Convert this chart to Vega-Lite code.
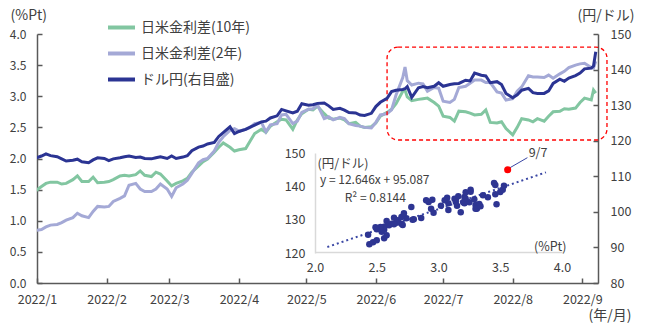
{
  "$schema": "https://vega.github.io/schema/vega-lite/v6.json",
  "width": 561,
  "height": 249,
  "autosize": {"type": "none"},
  "padding": {"left": 37, "top": 34, "right": 51, "bottom": 43},
  "background": "white",
  "config": {
    "view": {"stroke": null},
    "font": "Noto Sans CJK JP",
    "axis": {
      "labelFont": "Noto Sans CJK JP", "titleFont": "Noto Sans CJK JP",
      "labelColor": "#404040", "titleColor": "#404040",
      "labelFontSize": 12.5, "titleFontSize": 14, "titleFontWeight": "normal",
      "grid": false, "domainColor": "#595959", "tickColor": "#595959",
      "domainWidth": 1.5, "tickWidth": 1.5, "tickSize": -5, "labelOverlap": false, "labelBound": false
    },
    "legend": {
      "orient": "none", "legendX": 69, "legendY": -22,
      "symbolType": "stroke", "symbolSize": 729, "symbolStrokeWidth": 4,
      "labelFontSize": 14, "labelColor": "#404040", "labelFont": "Noto Sans CJK JP",
      "rowPadding": 2, "labelOffset": 4, "padding": 0
    }
  },
  "datasets": {
    "fx": [
      {"d": "2021-12-31", "s10": 1.47, "s2": 0.84, "usd": 115.0},
      {"d": "2022-01-03", "s10": 1.55, "s2": 0.86, "usd": 115.7},
      {"d": "2022-01-05", "s10": 1.60, "s2": 0.90, "usd": 116.3},
      {"d": "2022-01-07", "s10": 1.62, "s2": 0.93, "usd": 115.8},
      {"d": "2022-01-10", "s10": 1.62, "s2": 0.94, "usd": 115.5},
      {"d": "2022-01-12", "s10": 1.59, "s2": 0.97, "usd": 114.9},
      {"d": "2022-01-14", "s10": 1.60, "s2": 1.01, "usd": 114.3},
      {"d": "2022-01-17", "s10": 1.66, "s2": 1.05, "usd": 114.5},
      {"d": "2022-01-19", "s10": 1.72, "s2": 1.12, "usd": 114.8},
      {"d": "2022-01-21", "s10": 1.63, "s2": 1.08, "usd": 114.1},
      {"d": "2022-01-24", "s10": 1.63, "s2": 1.05, "usd": 113.8},
      {"d": "2022-01-26", "s10": 1.70, "s2": 1.15, "usd": 114.6},
      {"d": "2022-01-28", "s10": 1.61, "s2": 1.23, "usd": 115.2},
      {"d": "2022-01-31", "s10": 1.62, "s2": 1.22, "usd": 115.0},
      {"d": "2022-02-02", "s10": 1.63, "s2": 1.23, "usd": 114.4},
      {"d": "2022-02-04", "s10": 1.66, "s2": 1.31, "usd": 114.9},
      {"d": "2022-02-07", "s10": 1.72, "s2": 1.36, "usd": 115.2},
      {"d": "2022-02-09", "s10": 1.73, "s2": 1.40, "usd": 115.5},
      {"d": "2022-02-11", "s10": 1.72, "s2": 1.57, "usd": 115.7},
      {"d": "2022-02-14", "s10": 1.74, "s2": 1.60, "usd": 115.3},
      {"d": "2022-02-16", "s10": 1.80, "s2": 1.51, "usd": 115.4},
      {"d": "2022-02-18", "s10": 1.73, "s2": 1.47, "usd": 115.0},
      {"d": "2022-02-21", "s10": 1.71, "s2": 1.47, "usd": 114.9},
      {"d": "2022-02-23", "s10": 1.78, "s2": 1.51, "usd": 115.2},
      {"d": "2022-02-25", "s10": 1.75, "s2": 1.59, "usd": 115.5},
      {"d": "2022-02-28", "s10": 1.64, "s2": 1.51, "usd": 115.0},
      {"d": "2022-03-02", "s10": 1.56, "s2": 1.39, "usd": 115.7},
      {"d": "2022-03-04", "s10": 1.60, "s2": 1.53, "usd": 115.0},
      {"d": "2022-03-07", "s10": 1.64, "s2": 1.59, "usd": 115.4},
      {"d": "2022-03-09", "s10": 1.68, "s2": 1.65, "usd": 115.8},
      {"d": "2022-03-11", "s10": 1.78, "s2": 1.76, "usd": 117.2},
      {"d": "2022-03-14", "s10": 1.88, "s2": 1.93, "usd": 118.2},
      {"d": "2022-03-16", "s10": 1.95, "s2": 1.98, "usd": 118.5},
      {"d": "2022-03-18", "s10": 1.99, "s2": 2.00, "usd": 119.1},
      {"d": "2022-03-21", "s10": 2.10, "s2": 2.12, "usd": 119.5},
      {"d": "2022-03-23", "s10": 2.18, "s2": 2.26, "usd": 121.2},
      {"d": "2022-03-25", "s10": 2.25, "s2": 2.35, "usd": 122.3},
      {"d": "2022-03-28", "s10": 2.18, "s2": 2.45, "usd": 123.9},
      {"d": "2022-03-30", "s10": 2.12, "s2": 2.48, "usd": 122.0},
      {"d": "2022-04-01", "s10": 2.14, "s2": 2.44, "usd": 122.6},
      {"d": "2022-04-04", "s10": 2.16, "s2": 2.47, "usd": 123.2},
      {"d": "2022-04-06", "s10": 2.28, "s2": 2.50, "usd": 123.8},
      {"d": "2022-04-08", "s10": 2.40, "s2": 2.56, "usd": 124.4},
      {"d": "2022-04-11", "s10": 2.47, "s2": 2.58, "usd": 125.3},
      {"d": "2022-04-13", "s10": 2.42, "s2": 2.43, "usd": 125.5},
      {"d": "2022-04-15", "s10": 2.52, "s2": 2.54, "usd": 126.4},
      {"d": "2022-04-18", "s10": 2.59, "s2": 2.56, "usd": 127.0},
      {"d": "2022-04-20", "s10": 2.63, "s2": 2.70, "usd": 128.8},
      {"d": "2022-04-22", "s10": 2.62, "s2": 2.71, "usd": 128.4},
      {"d": "2022-04-25", "s10": 2.47, "s2": 2.56, "usd": 127.8},
      {"d": "2022-04-27", "s10": 2.62, "s2": 2.60, "usd": 128.3},
      {"d": "2022-04-29", "s10": 2.72, "s2": 2.74, "usd": 130.4},
      {"d": "2022-05-02", "s10": 2.79, "s2": 2.79, "usd": 130.0},
      {"d": "2022-05-04", "s10": 2.78, "s2": 2.80, "usd": 130.1},
      {"d": "2022-05-06", "s10": 2.84, "s2": 2.86, "usd": 130.5},
      {"d": "2022-05-09", "s10": 2.72, "s2": 2.64, "usd": 130.6},
      {"d": "2022-05-11", "s10": 2.65, "s2": 2.67, "usd": 129.8},
      {"d": "2022-05-13", "s10": 2.63, "s2": 2.62, "usd": 128.8},
      {"d": "2022-05-16", "s10": 2.65, "s2": 2.66, "usd": 129.1},
      {"d": "2022-05-18", "s10": 2.62, "s2": 2.64, "usd": 128.6},
      {"d": "2022-05-20", "s10": 2.56, "s2": 2.56, "usd": 127.9},
      {"d": "2022-05-23", "s10": 2.58, "s2": 2.53, "usd": 127.8},
      {"d": "2022-05-25", "s10": 2.52, "s2": 2.52, "usd": 127.2},
      {"d": "2022-05-27", "s10": 2.50, "s2": 2.50, "usd": 127.1},
      {"d": "2022-05-30", "s10": 2.51, "s2": 2.49, "usd": 127.7},
      {"d": "2022-06-01", "s10": 2.57, "s2": 2.58, "usd": 129.6},
      {"d": "2022-06-03", "s10": 2.68, "s2": 2.70, "usd": 130.8},
      {"d": "2022-06-06", "s10": 2.74, "s2": 2.72, "usd": 131.9},
      {"d": "2022-06-08", "s10": 2.79, "s2": 2.78, "usd": 133.8},
      {"d": "2022-06-10", "s10": 2.88, "s2": 3.02, "usd": 134.2},
      {"d": "2022-06-13", "s10": 3.08, "s2": 3.30, "usd": 134.4},
      {"d": "2022-06-14", "s10": 3.10, "s2": 3.47, "usd": 134.6},
      {"d": "2022-06-15", "s10": 2.99, "s2": 3.25, "usd": 135.2},
      {"d": "2022-06-17", "s10": 2.93, "s2": 3.18, "usd": 132.2},
      {"d": "2022-06-20", "s10": 2.95, "s2": 3.21, "usd": 134.9},
      {"d": "2022-06-22", "s10": 2.96, "s2": 3.20, "usd": 135.2},
      {"d": "2022-06-24", "s10": 2.97, "s2": 3.08, "usd": 134.9},
      {"d": "2022-06-27", "s10": 2.90, "s2": 3.14, "usd": 135.3},
      {"d": "2022-06-29", "s10": 2.84, "s2": 3.13, "usd": 136.3},
      {"d": "2022-07-01", "s10": 2.68, "s2": 2.92, "usd": 135.3},
      {"d": "2022-07-04", "s10": 2.66, "s2": 2.90, "usd": 135.8},
      {"d": "2022-07-06", "s10": 2.60, "s2": 2.95, "usd": 136.0},
      {"d": "2022-07-08", "s10": 2.76, "s2": 3.14, "usd": 136.1},
      {"d": "2022-07-11", "s10": 2.75, "s2": 3.16, "usd": 137.0},
      {"d": "2022-07-13", "s10": 2.73, "s2": 3.21, "usd": 136.8},
      {"d": "2022-07-15", "s10": 2.70, "s2": 3.26, "usd": 139.0},
      {"d": "2022-07-18", "s10": 2.71, "s2": 3.26, "usd": 138.4},
      {"d": "2022-07-20", "s10": 2.78, "s2": 3.22, "usd": 138.2},
      {"d": "2022-07-22", "s10": 2.58, "s2": 3.22, "usd": 136.3},
      {"d": "2022-07-25", "s10": 2.57, "s2": 3.07, "usd": 136.6},
      {"d": "2022-07-27", "s10": 2.59, "s2": 3.05, "usd": 135.8},
      {"d": "2022-07-29", "s10": 2.48, "s2": 2.94, "usd": 133.3},
      {"d": "2022-08-01", "s10": 2.38, "s2": 2.96, "usd": 132.1},
      {"d": "2022-08-03", "s10": 2.50, "s2": 3.08, "usd": 132.9},
      {"d": "2022-08-05", "s10": 2.64, "s2": 3.15, "usd": 134.2},
      {"d": "2022-08-08", "s10": 2.62, "s2": 3.33, "usd": 134.7},
      {"d": "2022-08-10", "s10": 2.59, "s2": 3.31, "usd": 133.5},
      {"d": "2022-08-12", "s10": 2.64, "s2": 3.31, "usd": 133.3},
      {"d": "2022-08-15", "s10": 2.60, "s2": 3.30, "usd": 133.3},
      {"d": "2022-08-17", "s10": 2.68, "s2": 3.34, "usd": 134.0},
      {"d": "2022-08-19", "s10": 2.75, "s2": 3.29, "usd": 136.1},
      {"d": "2022-08-22", "s10": 2.76, "s2": 3.36, "usd": 137.3},
      {"d": "2022-08-24", "s10": 2.80, "s2": 3.40, "usd": 136.7},
      {"d": "2022-08-26", "s10": 2.79, "s2": 3.46, "usd": 137.6},
      {"d": "2022-08-29", "s10": 2.81, "s2": 3.50, "usd": 138.3},
      {"d": "2022-08-31", "s10": 2.90, "s2": 3.52, "usd": 139.0},
      {"d": "2022-09-02", "s10": 2.97, "s2": 3.53, "usd": 140.2},
      {"d": "2022-09-05", "s10": 2.94, "s2": 3.46, "usd": 140.4},
      {"d": "2022-09-06", "s10": 3.10, "s2": 3.45, "usd": 141.0},
      {"d": "2022-09-07", "s10": 3.05, "s2": 3.56, "usd": 145.0}
    ]
  },
  "layer": [
    {
      "layer": [
        {
          "data": {"name": "fx"},
          "transform": [{"fold": ["s10", "s2"], "as": ["series", "value"]}],
          "mark": {"type": "line", "strokeWidth": 3, "clip": true},
          "encoding": {
            "x": {
              "field": "d", "type": "temporal",
              "scale": {"domain": [{"year": 2022, "month": 1, "date": 1}, {"year": 2022, "month": 9, "date": 8}]},
              "axis": {
                "orient": "bottom", "format": "%Y/%-m", "labelFlush": false, "labelPadding": 15, "labelOverlap": false,
                "values": [
                  {"year": 2022, "month": 1, "date": 1}, {"year": 2022, "month": 2, "date": 1},
                  {"year": 2022, "month": 3, "date": 1}, {"year": 2022, "month": 4, "date": 1},
                  {"year": 2022, "month": 5, "date": 1}, {"year": 2022, "month": 6, "date": 1},
                  {"year": 2022, "month": 7, "date": 1}, {"year": 2022, "month": 8, "date": 1},
                  {"year": 2022, "month": 9, "date": 1}
                ],
                "title": "(年/月)", "titleX": 551, "titleY": 32, "titleAlign": "left", "titleBaseline": "middle"
              }
            },
            "y": {
              "field": "value", "type": "quantitative",
              "scale": {"domain": [0, 4], "nice": false},
              "axis": {
                "orient": "left", "values": [0, 0.5, 1, 1.5, 2, 2.5, 3, 3.5, 4], "format": ".1f", "labelPadding": 16, "labelOverlap": false, "labelFontSize": 12,
                "title": "(%Pt)", "titleAngle": 0, "titleX": -27, "titleY": -19, "titleAlign": "left", "titleBaseline": "middle"
              }
            },
            "color": {
              "field": "series", "type": "nominal",
              "scale": {"domain": ["s10", "s2", "usd"], "range": ["#82c6a1", "#a4a9d6", "#2b3493"]},
              "legend": {
                "title": null,
                "labelExpr": "datum.value == 's10' ? '日米金利差(10年)' : datum.value == 's2' ? '日米金利差(2年)' : 'ドル円(右目盛)'"
              }
            }
          }
        },
        {
          "layer": [
            {
              "data": {"values": [{}]},
              "mark": {"type": "rect", "fill": null, "stroke": "#ff0000", "strokeDash": [4, 3], "strokeWidth": 1.3, "cornerRadius": 11, "clip": false},
              "encoding": {
                "x": {"datum": {"year": 2022, "month": 6, "date": 6}, "type": "temporal"},
                "x2": {"datum": {"year": 2022, "month": 9, "date": 12}},
                "y": {
                  "datum": 146.3, "type": "quantitative",
                  "scale": {"domain": [80, 150], "nice": false, "zero": false},
                  "axis": {
                    "orient": "right", "values": [80, 90, 100, 110, 120, 130, 140, 150], "tickCount": 8, "labelPadding": 17, "labelOverlap": false, "labelBound": false,
                    "title": "(円/ドル)", "titleAngle": 0, "titleX": -21, "titleY": -19, "titleAlign": "left", "titleBaseline": "middle"
                  }
                },
                "y2": {"datum": 120.2}
              }
            },
            {
              "data": {"name": "fx"},
              "transform": [{"fold": ["usd"], "as": ["series", "yen"]}],
              "mark": {"type": "line", "strokeWidth": 3, "clip": true},
              "encoding": {
                "x": {"field": "d", "type": "temporal"},
                "y": {
                  "field": "yen", "type": "quantitative",
                  "scale": {"domain": [80, 150], "nice": false, "zero": false},
                  "axis": {
                    "orient": "right", "values": [80, 90, 100, 110, 120, 130, 140, 150], "tickCount": 8, "labelPadding": 17, "labelOverlap": false, "labelBound": false,
                    "title": "(円/ドル)", "titleAngle": 0, "titleX": -21, "titleY": -19, "titleAlign": "left", "titleBaseline": "middle"
                  }
                },
                "color": {"field": "series", "type": "nominal"}
              }
            }
          ]
        }
      ],
      "resolve": {"scale": {"y": "independent"}}
    },
    {
      "layer": [
        {
          "data": {"values": [{"x": 2.1, "y": 121.8}, {"x": 3.87, "y": 144.2}]},
          "mark": {"type": "line", "strokeDash": [2, 3], "strokeWidth": 2, "color": "#3a47a4"},
          "encoding": {
            "x": {
              "field": "x", "type": "quantitative",
              "scale": {"domain": [2, 4], "range": [278, 525], "nice": false, "zero": false},
              "axis": {
                "orient": "bottom", "offset": -31, "ticks": false, "domainColor": "#d9d9d9", "domainWidth": 1.5,
                "values": [2, 2.5, 3, 3.5, 4], "format": ".1f", "labelPadding": 9, "labelFlush": false,
                "title": "(%Pt)", "titleX": 529, "titleY": -6, "titleAlign": "right", "titleBaseline": "middle", "titleFontSize": 12.5
              }
            },
            "y": {
              "field": "y", "type": "quantitative",
              "scale": {"domain": [120, 150], "range": [219, 119], "nice": false, "zero": false},
              "axis": {
                "orient": "left", "offset": -278, "ticks": false, "domainColor": "#d9d9d9", "domainWidth": 1.5,
                "values": [120, 130, 140, 150], "labelPadding": 10, "labelFlush": false,
                "title": "(円/ドル)", "titleAngle": 0, "titleX": 2, "titleY": 129, "titleAlign": "left", "titleBaseline": "middle", "titleFontSize": 12.5
              }
            }
          }
        },
        {
          "data": {"name": "fx"},
          "transform": [{"filter": "toDate(datum.d) >= datetime(2022, 3, 1) && toDate(datum.d) < datetime(2022, 8, 7)"}],
          "mark": {"type": "circle", "size": 42, "opacity": 1, "color": "#2e3592"},
          "encoding": {
            "x": {"field": "s2", "type": "quantitative"},
            "y": {"field": "usd", "type": "quantitative"}
          }
        },
        {
          "data": {"values": [{}]},
          "mark": {"type": "rule", "color": "#3a47a4", "strokeWidth": 1},
          "encoding": {
            "x": {"datum": 3.57}, "y": {"datum": 145.4},
            "x2": {"datum": 3.72}, "y2": {"datum": 148.6}
          }
        },
        {
          "data": {"name": "fx"},
          "transform": [{"filter": "toDate(datum.d) >= datetime(2022, 8, 7)"}],
          "mark": {"type": "circle", "size": 50, "opacity": 1, "color": "#ff0000"},
          "encoding": {
            "x": {"field": "s2", "type": "quantitative"},
            "y": {"field": "usd", "type": "quantitative"}
          }
        },
        {
          "data": {"values": [{"t": "9/7"}]},
          "mark": {"type": "text", "align": "left", "baseline": "middle", "fontSize": 12.5, "color": "#404040"},
          "encoding": {"x": {"datum": 3.73}, "y": {"datum": 149.9}, "text": {"field": "t"}}
        },
        {
          "data": {"values": [{"t": "y = 12.646x + 95.087"}]},
          "mark": {"type": "text", "align": "left", "baseline": "middle", "fontSize": 12, "color": "#404040"},
          "encoding": {"x": {"datum": 2.04}, "y": {"datum": 141.8}, "text": {"field": "t"}}
        },
        {
          "data": {"values": [{"t": "R² = 0.8144"}]},
          "mark": {"type": "text", "align": "left", "baseline": "middle", "fontSize": 12, "color": "#404040"},
          "encoding": {"x": {"datum": 2.24}, "y": {"datum": 136.6}, "text": {"field": "t"}}
        }
      ]
    }
  ],
  "resolve": {"scale": {"x": "independent", "y": "independent"}}
}
